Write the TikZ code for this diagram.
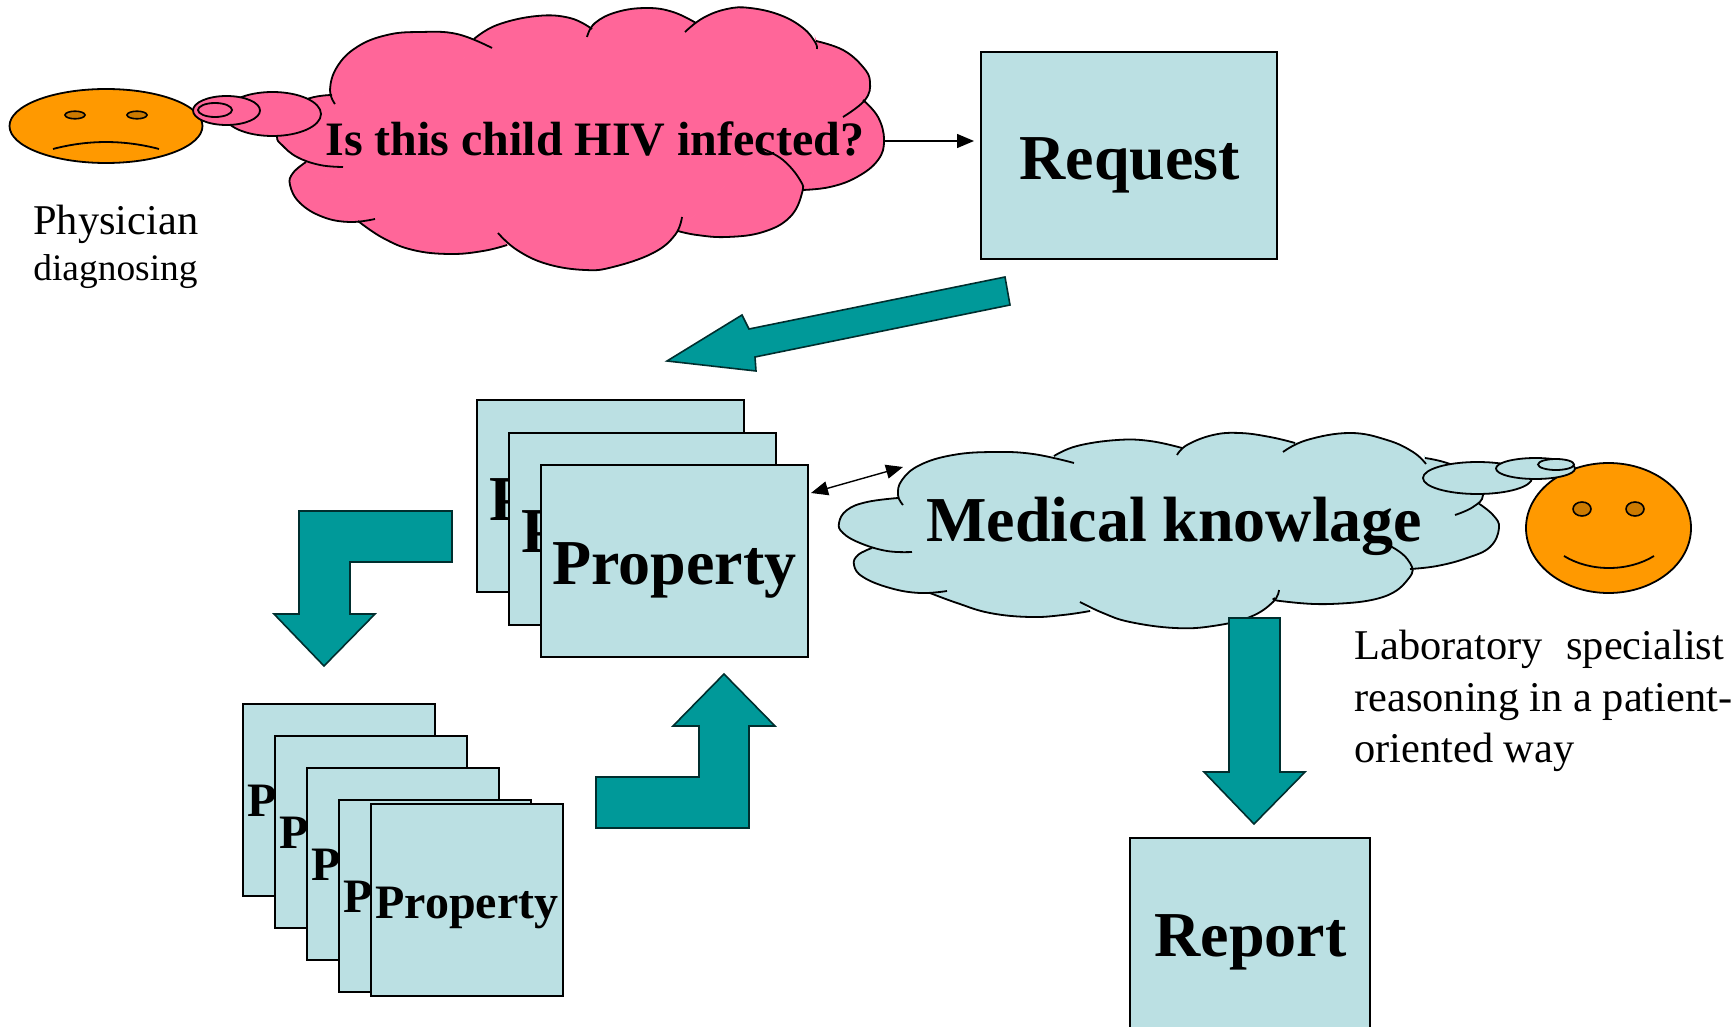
\documentclass[tikz,border=0pt]{standalone}
\usepackage{fontspec}
\setmainfont{Liberation Serif}
\usetikzlibrary{arrows.meta}
\definecolor{boxblue}{HTML}{BBE0E3}
\definecolor{teal9}{HTML}{009999}
\definecolor{pink6}{HTML}{FF6699}
\definecolor{orange9}{HTML}{FF9900}
\definecolor{eyec}{HTML}{CC7A00}
\newcommand\pinklobes[1]{%
#1{(335,104) (330,90) (337,67) (357,47) (387,35) (420,32) (457,34) (492,48)}%
#1{(474,39) (497,25) (537,16) (570,18) (592,29)}%
#1{(587,37) (595,23) (617,12) (647,8) (673,12) (696,23)}%
#1{(685,32) (703,18) (727,9) (750,8) (780,15) (803,28) (815,42) (817,49)}%
#1{(816,41) (843,50) (863,67) (870,82) (865,100) (843,117)}%
#1{(863,100) (878,117) (884,140) (878,160) (857,177) (830,187) (802,190)}%
#1{(763,149) (783,160) (800,180) (802,193) (790,217) (763,232) (727,237) (697,235) (678,231)}%
#1{(682,217) (675,235) (653,253) (613,267) (585,270) (547,264) (517,250) (498,233)}%
#1{(507,245) (483,251) (450,254) (413,250) (383,238) (358,221)}%
#1{(375,219) (350,222) (323,217) (300,203) (290,185) (293,173) (306,162)}%
#1{(343,167) (320,165) (297,157) (282,145) (277,137) (280,120) (305,100) (332,95)}}
\newcommand\bluelobes[1]{%
#1{(903,505) (898,495) (902,480) (920,465) (953,455) (993,452) (1033,454) (1074,463)}%
#1{(1054,456) (1077,446) (1117,440) (1150,441) (1182,448)}%
#1{(1177,455) (1187,445) (1213,435) (1240,433) (1270,437) (1295,443)}%
#1{(1283,452) (1307,440) (1350,433) (1387,440) (1413,452) (1426,464)}%
#1{(1425,458) (1447,463) (1475,475) (1483,495) (1473,507) (1455,515)}%
#1{(1478,503) (1493,515) (1499,528) (1490,547) (1467,558) (1437,566) (1410,569)}%
#1{(1365,538) (1392,547) (1410,563) (1409,578) (1383,597) (1330,604) (1280,601) (1275,598)}%
#1{(1279,590) (1273,602) (1250,617) (1213,626) (1175,628) (1130,622) (1103,613) (1080,602)}%
#1{(1090,611) (1063,615) (1030,617) (990,613) (957,603) (930,593)}%
#1{(947,591) (920,593) (890,588) (863,577) (854,565) (858,555) (872,548)}%
#1{(912,552) (887,551) (860,543) (843,533) (839,523) (847,510) (867,502) (898,498)}}
\tikzset{
  x=0.5pt,y=-0.5pt,
  bigbox/.style={draw=black,line width=0.9pt,fill=boxblue,minimum width=133.5pt,minimum height=96pt,anchor=north west,inner sep=0pt,outer sep=0pt},
  smallbox/.style={bigbox,minimum width=96pt,minimum height=96pt},
  bigtext/.style={font=\bfseries\fontsize{32}{32}\selectfont,inner sep=0pt,anchor=base west},
  midtext/.style={font=\bfseries\fontsize{24}{24}\selectfont,inner sep=0pt,anchor=base west},
  plaintext/.style={font=\fontsize{21.2}{21.2}\selectfont,inner sep=0pt,anchor=base west},
  blockarrow/.style={fill=teal9,draw=black!70!teal9,line width=0.8pt,line join=miter},
  bubble/.style={draw=black,line width=0.9pt},
  face/.style={draw=black,line width=0.9pt,fill=orange9},
  eye/.style={draw=black,line width=0.8pt,fill=eyec},
  mouth/.style={draw=black,line width=0.9pt},
  thinarrow/.style={draw=black,line width=0.7pt},
  headtip/.tip={Triangle[length=8.5pt,width=7pt]},
  pinkarea/.style={fill=pink6,draw=pink6,line width=0.6pt},
  bluearea/.style={fill=boxblue,draw=boxblue,line width=0.6pt},
}
\newcommand\pinkfill[1]{\path[pinkarea] plot[smooth,tension=0.7] coordinates {#1};}
\newcommand\bluefill[1]{\path[bluearea] plot[smooth,tension=0.7] coordinates {#1};}
\newcommand\lobestroke[1]{\draw[line width=0.9pt,black] plot[smooth,tension=0.7] coordinates {#1};}
\begin{document}
\begin{tikzpicture}
\useasboundingbox (0,0) rectangle (1735,1027);
% pink cloud
\pinklobes\pinkfill
\path[pinkarea] (335,104)--(492,48)--(474,39)--(592,29)--(587,37)--(696,23)--(685,32)--(817,49)--(816,41)--(843,117)--(863,100)--(802,190)--(763,149)--(678,231)--(682,217)--(498,233)--(507,245)--(358,221)--(375,219)--(306,162)--(343,167)--(332,95)--cycle;
\node[midtext] (question) at (325,156) {Is this child HIV infected?};
\pinklobes\lobestroke
% sad face
\path[face] (106,126) ellipse [x radius=96.5,y radius=37];
\path[eye] (75,115) ellipse [x radius=10,y radius=3.8];
\path[eye] (137,115) ellipse [x radius=10,y radius=3.8];
\draw[mouth] (53,149) .. controls (88,139.7) and (124,139.7) .. (159,149);
\path[bubble,fill=pink6] (272.5,114) ellipse [x radius=48.5,y radius=22];
\path[bubble,fill=pink6] (226.5,110.5) ellipse [x radius=33.5,y radius=14.5];
\path[bubble,fill=pink6] (215,110) ellipse [x radius=17,y radius=7];
\node[plaintext] (physician) at (33,235) {Physician};
\node[plaintext,font=\fontsize{18.7}{18.7}\selectfont] (diagnosing) at (33,281) {diagnosing};
% request
\node[bigbox] (requestbox) at (981,52) [minimum width=148pt,minimum height=103.5pt] {};
\node[bigtext] (requesttext) at (1019,180) {Request};
\coordinate (qout) at (884,141);
\coordinate (reqin) at (974,141);
\draw[thinarrow,-headtip] (qout) -- (reqin);
% block arrows
\draw[blockarrow] (1005,277)--(1010,305)--(755,357)--(756,371)--(667,361)--(742,315)--(749,329)--cycle;
\draw[blockarrow] (452,511)--(299,511)--(299,614)--(274,614)--(324,666)--(375,614)--(350,614)--(350,562)--(452,562)--cycle;
\draw[blockarrow] (596,777)--(699,777)--(699,726)--(673,726)--(724,674)--(775,726)--(749,726)--(749,828)--(596,828)--cycle;
% big stack
\node[bigbox] (big1) at (477,400) {};
\node[bigtext] (big1t) at (489,520) {P};
\node[bigbox] (big2) at (509,433) {};
\node[bigtext] (big2t) at (521,552) {P};
\node[bigbox] (big3) at (541,465) {};
\node[bigtext] (big3t) at (552,584) {Property};
% blue cloud
\bluelobes\bluefill
\path[bluearea] (903,505)--(1074,463)--(1054,456)--(1182,448)--(1177,455)--(1295,443)--(1283,452)--(1426,464)--(1425,458)--(1455,515)--(1478,503)--(1410,569)--(1365,538)--(1275,598)--(1279,590)--(1080,602)--(1090,611)--(930,593)--(947,591)--(872,548)--(912,552)--(898,498)--cycle;
\bluelobes\lobestroke
% happy face
\path[face] (1608.5,528) ellipse [x radius=82.5,y radius=65];
\path[eye] (1582,509) ellipse [x radius=9,y radius=7];
\path[eye] (1635,509) ellipse [x radius=9,y radius=7];
\draw[mouth] (1564,556) .. controls (1590,572) and (1628,572) .. (1654,556);
\path[bubble,fill=boxblue] (1477.5,478) ellipse [x radius=54.5,y radius=16];
\path[bubble,fill=boxblue] (1535.5,468.5) ellipse [x radius=39.5,y radius=10.5];
\path[bubble,fill=boxblue] (1556,464.5) ellipse [x radius=18,y radius=5.5];
\node[bigtext] (medical) at (926,541) {Medical knowlage};
\coordinate (propout) at (811,493);
\coordinate (medin) at (903,467);
\draw[thinarrow,headtip-headtip] (propout) -- (medin);
\draw[blockarrow] (1229,618)--(1280,618)--(1280,772)--(1305,772)--(1254,824)--(1204,772)--(1229,772)--cycle;
\node[plaintext] (lab1) at (1354,659) {Laboratory};
\node[plaintext] (lab1b) at (1566,659) {specialist};
\node[plaintext] (lab2) at (1354,711) {reasoning in a patient-};
\node[plaintext] (lab3) at (1354,762) {oriented way};
% small stack
\node[smallbox] (s1) at (243,704) {};
\node[midtext] (s1t) at (247,816) {P};
\node[smallbox] (s2) at (275,736) {};
\node[midtext] (s2t) at (279,848) {P};
\node[smallbox] (s3) at (307,768) {};
\node[midtext] (s3t) at (311,880) {P};
\node[smallbox] (s4) at (339,800) {};
\node[midtext] (s4t) at (343,912) {P};
\node[smallbox] (s5) at (371,804) {};
\node[midtext] (s5t) at (375,918) {Property};
% report
\node[bigbox,minimum width=120pt,minimum height=100pt] (reportbox) at (1130,838) {};
\node[bigtext] (reporttext) at (1154,956) {Report};
\end{tikzpicture}
\end{document}
